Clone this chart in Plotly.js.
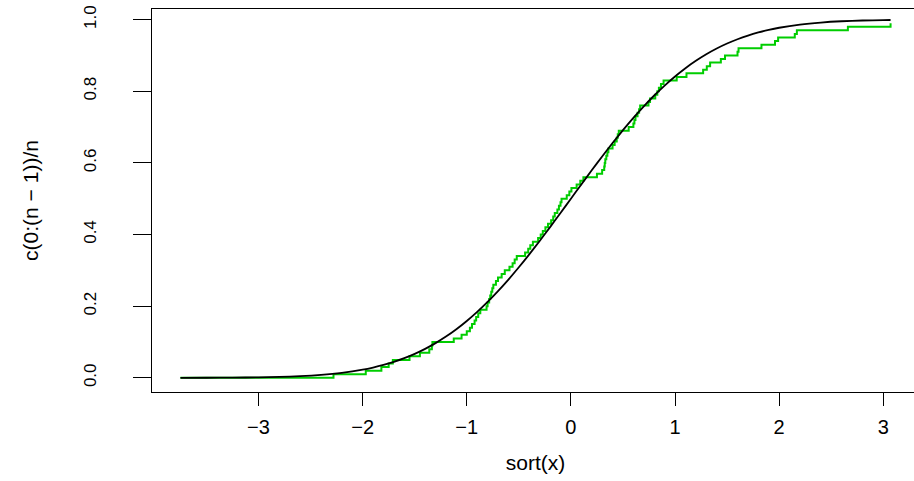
<!DOCTYPE html>
<html>
<head>
<meta charset="utf-8">
<script src="https://cdn.plot.ly/plotly-3.0.1.min.js"></script>
<style>
html,body{margin:0;padding:0;overflow:hidden;background:#fff;}
#chart{width:924px;height:481px;}
</style>
</head>
<body>
<div id="chart"></div>
<script>
// sorted sample values, sort(x)
var sortedX = [
 -3.75, -2.28, -1.97, -1.82, -1.75, -1.71, -1.55, -1.45, -1.36, -1.335,
 -1.33, -1.125, -1.05, -1.00, -0.97, -0.95, -0.925, -0.91, -0.89, -0.87,
 -0.81, -0.80, -0.785, -0.775, -0.765, -0.755, -0.745, -0.72, -0.70, -0.665,
 -0.635, -0.59, -0.56, -0.54, -0.52, -0.44, -0.41, -0.39, -0.365, -0.315,
 -0.29, -0.27, -0.245, -0.22, -0.19, -0.17, -0.155, -0.13, -0.115, -0.10,
 -0.09, -0.04, -0.015, 0.005, 0.055, 0.09, 0.12, 0.25, 0.30, 0.32,
 0.325, 0.33, 0.34, 0.35, 0.36, 0.40, 0.42, 0.44, 0.45, 0.46,
 0.555, 0.60, 0.61, 0.62, 0.64, 0.655, 0.665, 0.745, 0.76, 0.81,
 0.83, 0.845, 0.865, 0.89, 1.016, 1.11, 1.27, 1.305, 1.337, 1.44,
 1.48, 1.60, 1.61, 1.83, 1.96, 1.99, 2.15, 2.17, 2.66, 3.07
];
// c(0:(n-1))/n
var ecdfY = [
 0.00, 0.01, 0.02, 0.03, 0.04, 0.05, 0.06, 0.07, 0.08, 0.09,
 0.10, 0.11, 0.12, 0.13, 0.14, 0.15, 0.16, 0.17, 0.18, 0.19,
 0.20, 0.21, 0.22, 0.23, 0.24, 0.25, 0.26, 0.27, 0.28, 0.29,
 0.30, 0.31, 0.32, 0.33, 0.34, 0.35, 0.36, 0.37, 0.38, 0.39,
 0.40, 0.41, 0.42, 0.43, 0.44, 0.45, 0.46, 0.47, 0.48, 0.49,
 0.50, 0.51, 0.52, 0.53, 0.54, 0.55, 0.56, 0.57, 0.58, 0.59,
 0.60, 0.61, 0.62, 0.63, 0.64, 0.65, 0.66, 0.67, 0.68, 0.69,
 0.70, 0.71, 0.72, 0.73, 0.74, 0.75, 0.76, 0.77, 0.78, 0.79,
 0.80, 0.81, 0.82, 0.83, 0.84, 0.85, 0.86, 0.87, 0.88, 0.89,
 0.90, 0.91, 0.92, 0.93, 0.94, 0.95, 0.96, 0.97, 0.98, 0.99
];
// standard normal CDF (pnorm) table
var normX = [-3.75, -3.5, -3.25, -3.0, -2.8, -2.6, -2.4, -2.2, -2.0, -1.9,
 -1.8, -1.7, -1.6, -1.5, -1.4, -1.3, -1.2, -1.1, -1.0, -0.9,
 -0.8, -0.7, -0.6, -0.5, -0.4, -0.3, -0.2, -0.1, 0.0, 0.1,
 0.2, 0.3, 0.4, 0.5, 0.6, 0.7, 0.8, 0.9, 1.0, 1.1,
 1.2, 1.3, 1.4, 1.5, 1.6, 1.7, 1.8, 1.9, 2.0, 2.2,
 2.4, 2.6, 2.8, 3.0, 3.07];
var normP = [0.0000884, 0.000233, 0.000577, 0.00135, 0.00256, 0.00466, 0.00820, 0.01390, 0.02275, 0.02872,
 0.03593, 0.04457, 0.05480, 0.06681, 0.08076, 0.09680, 0.11507, 0.13567, 0.15866, 0.18406,
 0.21186, 0.24196, 0.27425, 0.30854, 0.34458, 0.38209, 0.42074, 0.46017, 0.5, 0.53983,
 0.57926, 0.61791, 0.65542, 0.69146, 0.72575, 0.75804, 0.78814, 0.81594, 0.84134, 0.86433,
 0.88493, 0.90320, 0.91924, 0.93319, 0.94520, 0.95543, 0.96407, 0.97128, 0.97725, 0.98610,
 0.99180, 0.99534, 0.99744, 0.99865, 0.99893];

var xTickVals = [-3, -2, -1, 0, 1, 2, 3];
var xTickText = ['\u22123', '\u22122', '\u22121', '0', '1', '2', '3'];
var yTickVals = [0, 0.2, 0.4, 0.6, 0.8, 1.0];
var yTickText = ['0.0', '0.2', '0.4', '0.6', '0.8', '1.0'];

var FONT = 'Liberation Sans, Arial, Helvetica, sans-serif';

var traces = [
  {x: sortedX, y: ecdfY, type: 'scatter', mode: 'lines',
   line: {shape: 'hv', color: '#00cd00', width: 2}, hoverinfo: 'x+y'},
  {x: normX, y: normP, type: 'scatter', mode: 'lines',
   line: {shape: 'spline', smoothing: 0.6, color: '#000000', width: 1.8}, hoverinfo: 'x+y'}
];

var layout = {
  width: 924, height: 481,
  margin: {l: 152, r: 5, t: 9, b: 89},
  paper_bgcolor: '#ffffff', plot_bgcolor: '#ffffff',
  showlegend: false,
  font: {family: FONT, size: 20, color: '#000000'},
  xaxis: {
    range: [-4.023, 3.343], autorange: false,
    tickmode: 'array', tickvals: xTickVals, ticktext: xTickText,
    ticks: 'outside', ticklen: 13, tickwidth: 1, tickcolor: '#000',
    ticklabelstandoff: 4,
    showline: true, mirror: true, linecolor: '#000', linewidth: 1,
    showgrid: false, zeroline: false,
    tickfont: {family: FONT, size: 20, color: '#000'},
    title: {text: 'sort(x)', font: {family: FONT, size: 21, color: '#000'}, standoff: 18}
  },
  yaxis: {
    range: [-0.0396, 1.0296], autorange: false,
    tickmode: 'array', tickvals: yTickVals, ticktext: yTickText,
    tickangle: -90,
    ticks: 'outside', ticklen: 18, tickwidth: 1, tickcolor: '#000',
    ticklabelstandoff: 30,
    showline: true, mirror: true, linecolor: '#000', linewidth: 1,
    showgrid: false, zeroline: false,
    tickfont: {family: FONT, size: 17, color: '#000'},
    title: {text: 'c(0:(n \u2212 1))/n', font: {family: FONT, size: 21, color: '#000'}, standoff: 36}
  }
};

Plotly.newPlot('chart', traces, layout, {displayModeBar: false, staticPlot: true});
</script>
</body>
</html>
